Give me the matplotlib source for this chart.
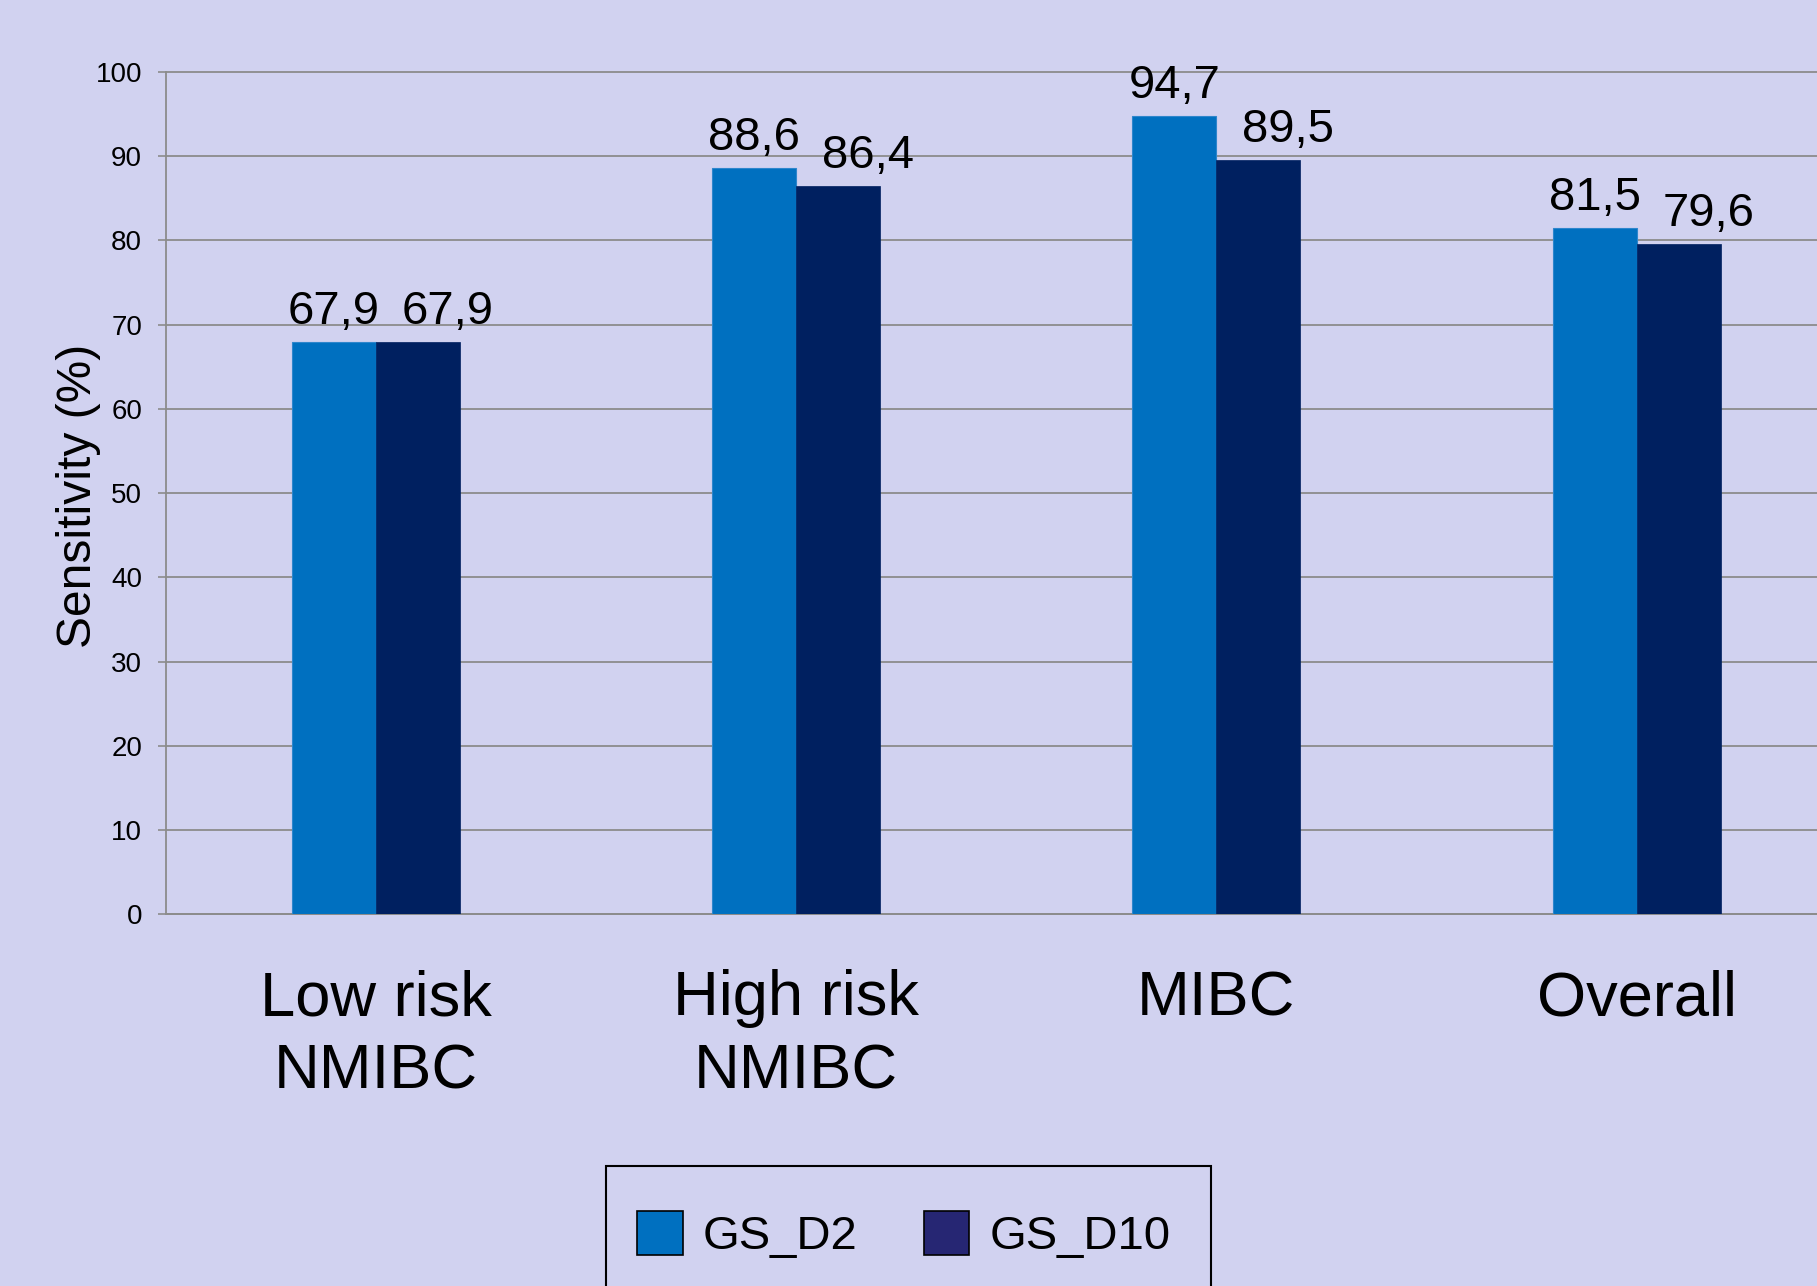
import matplotlib
matplotlib.use("Agg")
import matplotlib.pyplot as plt
from matplotlib.patches import Patch, Rectangle
import numpy as np

categories = ["Low risk\nNMIBC", "High risk\nNMIBC", "MIBC", "Overall"]
series_names = ["GS_D2", "GS_D10"]
gs_d2 = [67.9, 88.6, 94.7, 81.5]
gs_d10 = [67.9, 86.4, 89.5, 79.6]
yticks = [0, 10, 20, 30, 40, 50, 60, 70, 80, 90, 100]

bg = "#D1D2F0"
c_light = "#0070C0"
c_dark = "#002060"
c_legend_dark = "#262673"
grid_c = "#8C8C8C"

plt.rcParams["font.family"] = ["Liberation Sans", "DejaVu Sans"]

fig = plt.figure(figsize=(18.17, 12.86), dpi=100, facecolor=bg)
ax = fig.add_axes([0.0912, 0.2890, 1.0 - 0.0912, 0.6552])
ax.set_facecolor(bg)

x = np.arange(len(categories)) + 0.5
w = 0.2
b1 = ax.bar(x - w / 2, gs_d2, width=w, color=c_light, edgecolor="#2E86CC", linewidth=0.8, zorder=3)
b2 = ax.bar(x + w / 2, gs_d10, width=w, color=c_dark, edgecolor=c_dark, linewidth=0.5, zorder=3)

for bars, vals, dx in ((b1, gs_d2, 0), (b2, gs_d10, 21.5)):
    for r, v in zip(bars, vals):
        ax.annotate(f"{v:.1f}".replace(".", ","),
                    (r.get_x() + r.get_width() / 2, r.get_height()),
                    xytext=(dx, 13), textcoords="offset points",
                    ha="center", va="baseline", fontsize=34, color="black",
                    zorder=4)

ax.set_xlim(0, 3.929)
ax.set_ylim(0, 100)
ax.set_yticks(yticks)
ax.set_yticklabels([str(t) for t in yticks], fontsize=20)
ax.set_xticks(x)
ax.set_xticklabels(categories, fontsize=45.5, linespacing=1.31)
ax.tick_params(axis="x", length=0, pad=39.5)
ax.tick_params(axis="y", length=6, width=1.2, color=grid_c, pad=11)

ax.grid(axis="y", color=grid_c, linewidth=1.3, zorder=0)
for gl in ax.get_ygridlines():
    gl.set_clip_on(False)
ax.set_axisbelow(True)
for s in ("top", "right"):
    ax.spines[s].set_visible(False)
for s in ("left", "bottom"):
    ax.spines[s].set_color(grid_c)
    ax.spines[s].set_linewidth(1.3)

ax.set_ylabel("Sensitivity (%)", fontsize=34.5)
ax.yaxis.set_label_coords(-0.039, 0.497)

handles = [Patch(facecolor=c_light, edgecolor="black", linewidth=1.2),
           Patch(facecolor=c_legend_dark, edgecolor="black", linewidth=1.2)]
leg = fig.legend(handles, series_names, loc="center",
                 bbox_to_anchor=(0.4974, 1 - 1066 / 1110), ncol=2, fontsize=34,
                 frameon=False, borderpad=0, handlelength=0.97,
                 handleheight=1.05, handletextpad=0.42, columnspacing=1.4,
                 borderaxespad=0)

frame = Rectangle((523 / 1568, -0.05), (1045 - 523) / 1568, 0.05 + (1 - 1006 / 1110),
                  transform=fig.transFigure, fill=False, edgecolor="black",
                  linewidth=1.5, zorder=1)
fig.patches.append(frame)

fig.savefig("out.png", dpi=100, facecolor=bg)
